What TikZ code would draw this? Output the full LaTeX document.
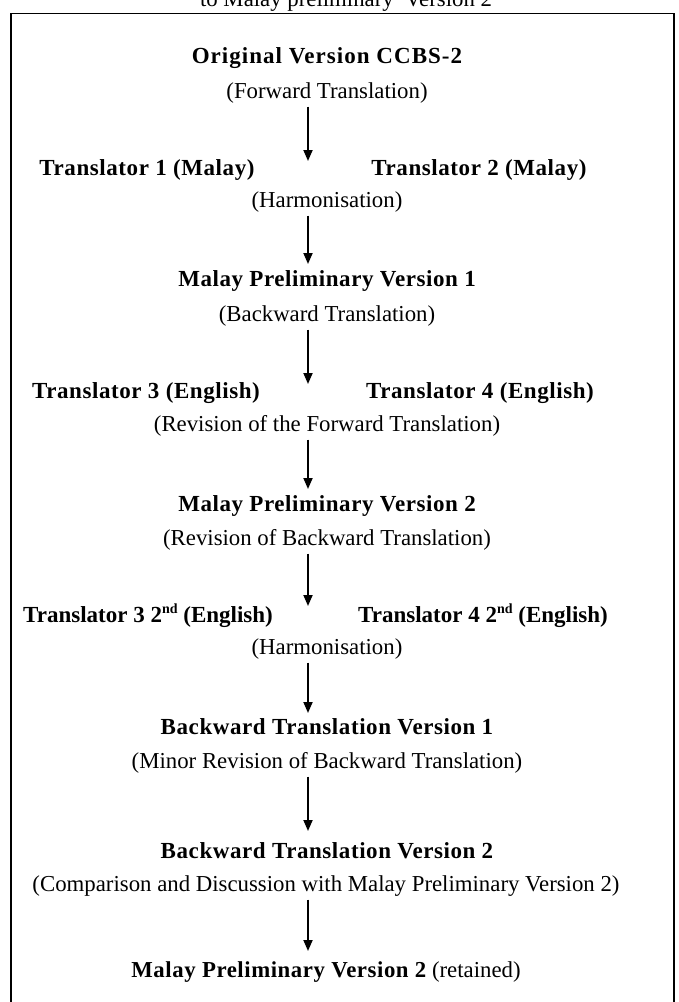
\documentclass[tikz,border=0pt]{standalone}
\usepackage{fontspec}
\setmainfont{Liberation Serif}
\usetikzlibrary{arrows.meta}
\newcommand{\smallsup}[1]{\raisebox{0.85ex}{\fontsize{14}{16}\selectfont #1}}
\begin{document}
\begin{tikzpicture}[x=1pt,y=-1pt,
  lbl/.style={font=\fontsize{22.8}{27}\selectfont, inner sep=1pt},
  hd/.style={font=\fontsize{23}{27}\selectfont\bfseries\addfontfeature{LetterSpace=2.5}, inner sep=1pt},
  hdtight/.style={font=\fontsize{23}{27}\selectfont\bfseries, inner sep=1pt},
  flow/.style={line width=1.8pt, shorten <=2pt, -{Triangle[width=9pt,length=11pt]}},
  frame/.style={line width=1.8pt}]
\useasboundingbox (0,0) rectangle (678,1002);
\clip (0,0) rectangle (678,1002);
\draw[frame] (11,1030) -- (11,13.5) -- (674,13.5) -- (674,1030);
\node[lbl, anchor=base] (cap) at (346,6) {to Malay preliminary \ Version 2};
% level 1
\node[hd, font=\fontsize{23}{27}\selectfont\bfseries\addfontfeature{LetterSpace=4.5}] (orig) at (327,58) {Original Version CCBS-2};
\node[lbl] (fwd) at (327,93) {(Forward Translation)};
\coordinate (e1) at (308,161);
\draw[flow] (fwd.south -| e1) -- (e1);
\node[hd] (t1) at (147,170) {Translator 1 (Malay)};
\node[hd] (t2) at (479,170) {Translator 2 (Malay)};
\node[lbl] (harm1) at (327,202) {(Harmonisation)};
\coordinate (e2) at (308,264);
\draw[flow] (harm1.south -| e2) -- (e2);
% level 2
\node[hd] (mpv1) at (327,281) {Malay Preliminary Version 1};
\node[lbl] (bwd) at (327,316) {(Backward Translation)};
\coordinate (e3) at (308,384);
\draw[flow] (bwd.south -| e3) -- (e3);
\node[hd] (t3) at (146,393) {Translator 3 (English)};
\node[hd] (t4) at (480,393) {Translator 4 (English)};
\node[lbl] (revf) at (327,426) {(Revision of the Forward Translation)};
\coordinate (e4) at (308,489);
\draw[flow] (revf.south -| e4) -- (e4);
% level 3
\node[hd] (mpv2) at (327,506) {Malay Preliminary Version 2};
\node[lbl] (revb) at (327,540) {(Revision of Backward Translation)};
\coordinate (e5) at (308,606);
\draw[flow] (revb.south -| e5) -- (e5);
\node[hdtight, anchor=base] (t3b) at (148,622) {Translator 3 2\smallsup{nd} (English)};
\node[hdtight, anchor=base] (t4b) at (483,622) {Translator 4 2\smallsup{nd} (English)};
\node[lbl] (harm2) at (327,649) {(Harmonisation)};
\coordinate (e6) at (308,713);
\draw[flow] (harm2.south -| e6) -- (e6);
% level 4
\node[hd] (btv1) at (327,727) {Backward Translation Version 1};
\node[lbl] (minor) at (327,763) {(Minor Revision of Backward Translation)};
\coordinate (e7) at (308,831);
\draw[flow] (minor.south -| e7) -- (e7);
\node[hd] (btv2) at (327,851) {Backward Translation Version 2};
\node[lbl] (comp) at (326,886) {(Comparison and Discussion with Malay Preliminary Version 2)};
\coordinate (e8) at (308,951);
\draw[flow] (comp.south -| e8) -- (e8);
\node[lbl] (final) at (326,972) {{\bfseries\addfontfeature{LetterSpace=2.5}Malay Preliminary Version 2} (retained)};
\end{tikzpicture}
\end{document}
